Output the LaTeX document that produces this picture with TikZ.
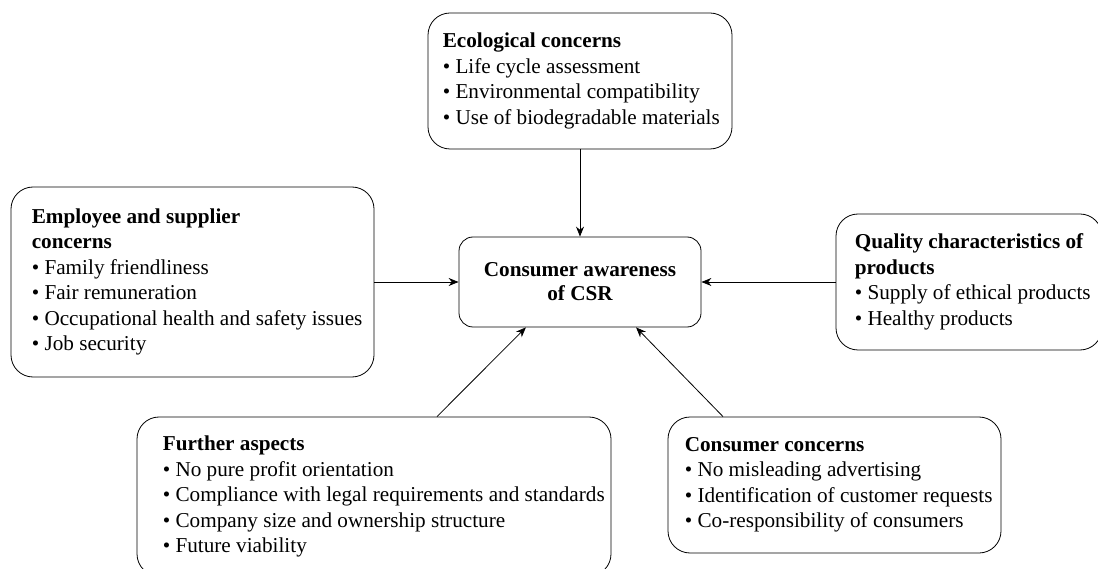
\documentclass[tikz,border=0pt]{standalone}
\usepackage{fontspec}
\setmainfont{Liberation Serif}
\usepackage{tikz}
\usetikzlibrary{arrows.meta, positioning}

\tikzset{
  box/.style={draw, line width=0.8pt, rounded corners=22pt},
  txt/.style={anchor=west, align=left, inner sep=0pt, font=\fontsize{21.2}{25.5}\selectfont},
  link/.style={-{Stealth[length=10pt, width=8pt]}, line width=0.8pt}
}

\begin{document}
\begin{tikzpicture}[x=1pt, y=-1pt]
    \clip (0,0) rectangle (1098,569);
    % Centre
    \node[box, rounded corners=14pt, minimum width=242pt, minimum height=90pt, align=center,
          font=\fontsize{21.2}{24}\selectfont\bfseries] (csr) at (580,282) {Consumer awareness\\of CSR};
    % Concern boxes
    \node[box, minimum width=304pt, minimum height=136pt] (eco) at (580,81) {};
    \node[txt] (ecotxt) at ([xshift=15pt]eco.west) {\textbf{Ecological concerns}\\
      \textbullet{} Life cycle assessment\\
      \textbullet{} Environmental compatibility\\
      \textbullet{} Use of biodegradable materials};
    \node[box, minimum width=363pt, minimum height=190pt] (emp) at (192.5,282) {};
    \node[txt] (emptxt) at ([xshift=21pt]emp.west) {\textbf{Employee and supplier}\\
      \textbf{concerns}\\
      \textbullet{} Family friendliness\\
      \textbullet{} Fair remuneration\\
      \textbullet{} Occupational health and safety issues\\
      \textbullet{} Job security};
    \node[box, minimum width=266pt, minimum height=136pt] (qual) at (969,282) {};
    \node[txt] (qualtxt) at ([xshift=19pt]qual.west) {\textbf{Quality characteristics of}\\
      \textbf{products}\\
      \textbullet{} Supply of ethical products\\
      \textbullet{} Healthy products};
    \node[box, minimum width=474pt, minimum height=159pt] (further) at (374,496.5) {};
    \node[txt] (furthertxt) at ([xshift=26pt]further.west) {\textbf{Further aspects}\\
      \textbullet{} No pure profit orientation\\
      \textbullet{} Compliance with legal requirements and standards\\
      \textbullet{} Company size and ownership structure\\
      \textbullet{} Future viability};
    \node[box, minimum width=333pt, minimum height=136pt] (cons) at (834.5,485) {};
    \node[txt] (constxt) at ([xshift=17pt]cons.west) {\textbf{Consumer concerns}\\
      \textbullet{} No misleading advertising\\
      \textbullet{} Identification of customer requests\\
      \textbullet{} Co-responsibility of consumers};
    % Arrows
    \draw[link] (eco.south) -- (csr.north);
    \draw[link] (emp.east) -- (csr.west);
    \draw[link] (qual.west) -- (csr.east);
    \draw[link] ([xshift=63pt]further.north) -- (csr.220);
    \draw[link] ([xshift=-111.5pt]cons.north) -- (csr.-39);
\end{tikzpicture}
\end{document}
